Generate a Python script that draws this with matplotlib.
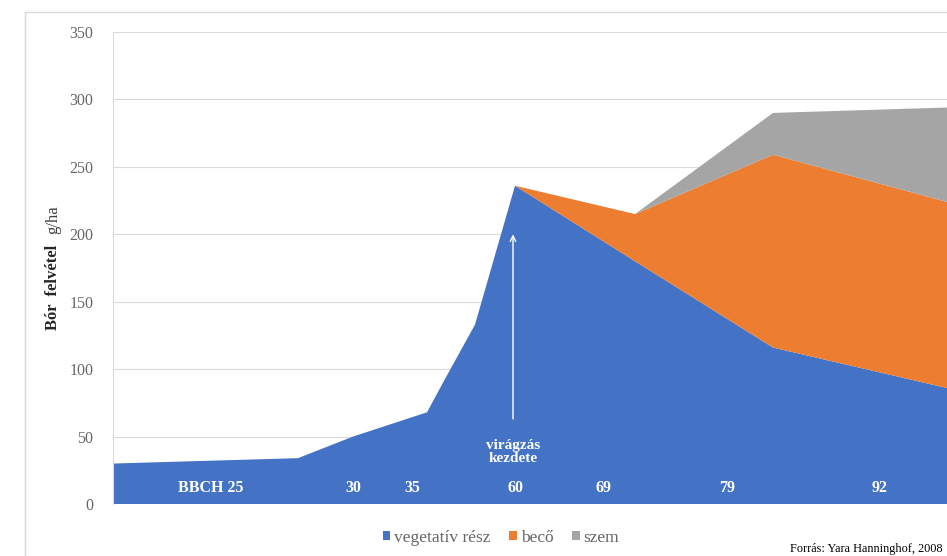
import matplotlib.pyplot as plt
from matplotlib.patches import Patch, Rectangle

plt.rcParams['font.family'] = ['Liberation Serif', 'DejaVu Serif']

# sampling points along the season (arbitrary time units) and boron uptake, g/ha
days = [0, 18.5, 24, 31.4, 33, 36.2, 40.2, 52.2, 66, 83.4]
vegetativ = [30, 34, 50, 68, 90, 133, 236, 180, 116, 86]
beco = [0, 0, 0, 0, 0, 0, 0, 35, 143, 138]
szem = [0, 0, 0, 0, 0, 0, 0, 0, 31, 70]
series_names = ["vegetatív rész", "becő", "szem"]
colors = ["#4472C4", "#ED7D31", "#A5A5A5"]

# BBCH growth stage labels and where they sit on the time axis
bbch_labels = ["BBCH 25", "30", "35", "60", "69", "79", "92"]
bbch_pos = [9.8, 24, 29.9, 40.2, 49, 61.4, 76.7]
flowering_day = 40.0

fig = plt.figure(figsize=(9.47, 5.56), dpi=100)
ax = fig.add_axes([113 / 947, 52 / 556, 1 - 113 / 947, 472 / 556])

ax.stackplot(days, vegetativ, beco, szem, colors=colors, labels=series_names, zorder=2)

ax.set_xlim(0, 83.4)
ax.set_ylim(0, 350)
ax.set_yticks(range(0, 351, 50))
ax.set_xticks([])
ax.grid(axis='y', color='#d9d9d9', linewidth=0.8, zorder=0)
ax.set_axisbelow(True)
for side in ['top', 'right', 'bottom']:
    ax.spines[side].set_visible(False)
ax.spines['left'].set_color('#d9d9d9')
ax.tick_params(axis='y', length=0, pad=14, labelsize=11.5, labelcolor='#666666')

for lab, pos in zip(bbch_labels, bbch_pos):
    ax.text(pos, 12, lab, color='white', fontweight='bold', fontsize=11.5,
            ha='center', va='center', zorder=5)

ax.text(flowering_day, 38.5, "virágzás\nkezdete", color='white', fontweight='bold',
        fontsize=11, ha='center', va='center', linespacing=1.05, zorder=5)
ax.annotate("", xy=(flowering_day, 202), xytext=(flowering_day, 61),
            arrowprops=dict(arrowstyle='->', color='white', lw=1), zorder=5)

# y label: bold part plus unit
fig.text(53 / 947, 1 - 330 / 556, "Bór  felvétel", rotation=90, fontweight='bold',
         fontsize=12, ha='center', va='bottom', color='#262626')
fig.text(53 / 947, 1 - 234 / 556, "g/ha", rotation=90, fontsize=12,
         ha='center', va='bottom', color='#404040')

handles = [Patch(facecolor=c, edgecolor='none') for c in colors]
fig.legend(handles, series_names, loc='center', bbox_to_anchor=(501 / 947, 1 - 538 / 556),
           ncol=3, frameon=False, fontsize=12.5, labelcolor='#666666',
           handlelength=0.45, handleheight=0.45, handletextpad=0.2, columnspacing=1.1)

fig.text(942 / 947, 1 - 549 / 556, "Forrás: Yara Hanninghof, 2008", fontsize=8.8,
         ha='right', va='center')

# outer chart frame
fig.patches.append(Rectangle((25 / 947, -0.1), 1.2, 1.1 - 12 / 556, transform=fig.transFigure,
                             facecolor='none', edgecolor='#d9d9d9', linewidth=1))

fig.savefig("out.png", dpi=100)
